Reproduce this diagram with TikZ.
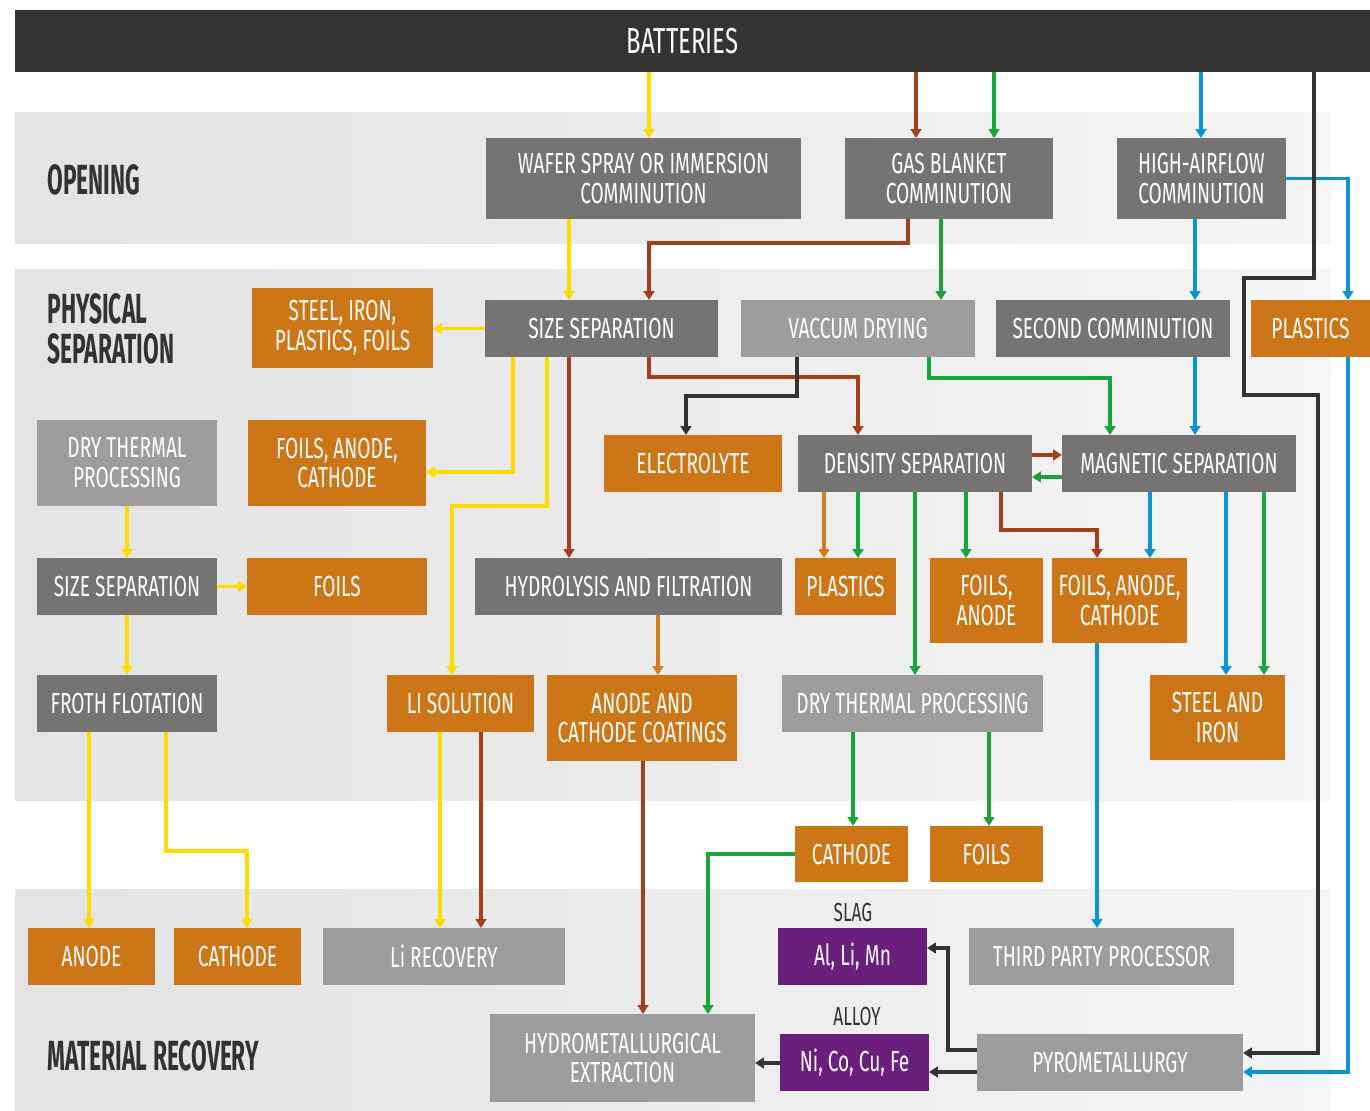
\documentclass[tikz,border=0pt]{standalone}
\usepackage{fontspec}
\setmainfont{Fira Sans}
\newfontfamily\boxfont[FakeStretch=0.66]{Fira Sans}
\newfontfamily\headfont[FakeStretch=0.54]{Fira Sans}
\usetikzlibrary{arrows.meta}

\definecolor{barblack}{HTML}{353331}
\definecolor{procdark}{HTML}{767472}
\definecolor{proclight}{HTML}{9E9C9C}
\definecolor{prodorange}{HTML}{CD7617}
\definecolor{metalpurple}{HTML}{6B1F7C}
\definecolor{bandgray}{HTML}{E3E3E3}
\definecolor{headgray}{HTML}{333333}
\definecolor{lnyellow}{HTML}{FFDC00}
\definecolor{lnbrown}{HTML}{A3401A}
\definecolor{lnorange}{HTML}{D07E20}
\definecolor{lngreen}{HTML}{1BA33C}
\definecolor{lnblue}{HTML}{0A93D5}
\definecolor{lnblack}{HTML}{333333}

\tikzset{
  wh/.style 2 args={minimum width=#1*0.02cm, minimum height=#2*0.02cm, anchor=north west},
  box/.style={text=white, align=center, inner sep=0pt, outer sep=0pt,
    font=\boxfont\fontsize{16.5}{17}\selectfont},
  dk/.style={box, fill=procdark},
  lt/.style={box, fill=proclight},
  prod/.style={box, fill=prodorange},
  metal/.style={box, fill=metalpurple},
  head/.style={anchor=west, align=left, text=headgray, inner sep=0pt,
    font=\headfont\bfseries\fontsize{24}{22.5}\selectfont},
  flow/.style={line width=2pt, -{Triangle[width=6pt,length=5pt]}},
  yel/.style={flow, draw=lnyellow},
  brn/.style={flow, draw=lnbrown},
  org/.style={flow, draw=lnorange},
  grn/.style={flow, draw=lngreen},
  blu/.style={flow, draw=lnblue},
  blk/.style={flow, draw=lnblack},
}

\begin{document}
\begin{tikzpicture}[x=0.02cm, y=-0.02cm]
\useasboundingbox (0,0) rectangle (1370,1110);

% bands
\shade[left color=bandgray, right color=white!96!black] (15,112) rectangle (1330,243);
\shade[left color=bandgray, right color=white!96!black] (15,269) rectangle (1330,800);
\shade[left color=bandgray, right color=white!96!black] (15,889) rectangle (1330,1110);

\node[head] (hopen) at (47,180) {OPENING};
\node[head] (hphys) at (47,329) {PHYSICAL\\SEPARATION};
\node[head] (hrec) at (47,1056) {MATERIAL RECOVERY};

\node[wh={1355}{62}, fill=barblack, text=white, inner sep=0pt, outer sep=0pt,
  font=\boxfont\fontsize{20.6}{21}\selectfont] (bat) at (15,10) {BATTERIES\kern0.4cm};

% opening
\node[dk, wh={315}{81}] (wafer) at (486,138) {WAFER SPRAY OR IMMERSION\\COMMINUTION};
\node[dk, wh={208}{81}] (gas) at (845,138) {GAS BLANKET\\COMMINUTION};
\node[dk, wh={169}{81}] (hiair) at (1117,138) {HIGH-AIRFLOW\\COMMINUTION};

% physical separation
\node[prod, wh={181}{80}] (sipf) at (252,288) {STEEL, IRON,\\PLASTICS, FOILS};
\node[dk, wh={233}{57}] (ssep) at (485,300) {SIZE SEPARATION};
\node[lt, wh={234}{57}] (vdry) at (741,300) {VACCUM DRYING};
\node[dk, wh={234}{57}] (comm2) at (996,300) {SECOND COMMINUTION};
\node[prod, wh={119}{57}] (plast) at (1251,300) {PLASTICS};

\node[lt, wh={180}{86}] (dtp) at (37,420) {DRY THERMAL\\PROCESSING};
\node[prod, wh={178}{86}] (fac) at (248,420) {FOILS, ANODE,\\CATHODE};
\node[prod, wh={178}{57}] (elyte) at (604,435) {ELECTROLYTE};
\node[dk, wh={234}{57}] (dens) at (798,435) {DENSITY SEPARATION};
\node[dk, wh={234}{57}] (magn) at (1062,435) {MAGNETIC SEPARATION};

\node[dk, wh={180}{57}] (ssep2) at (37,558) {SIZE SEPARATION};
\node[prod, wh={180}{57}] (foils) at (247,558) {FOILS};
\node[dk, wh={307}{57}] (hydro) at (475,558) {HYDROLYSIS AND FILTRATION};
\node[prod, wh={101}{57}] (plast2) at (795,558) {PLASTICS};
\node[prod, wh={113}{85}] (fa) at (930,558) {FOILS,\\ANODE};
\node[prod, wh={135}{85}] (fac2) at (1052,558) {FOILS, ANODE,\\CATHODE};

\node[dk, wh={180}{57}] (froth) at (37,675) {FROTH FLOTATION};
\node[prod, wh={147}{57}] (lisol) at (387,675) {LI SOLUTION};
\node[prod, wh={190}{86}] (coat) at (547,675) {ANODE AND\\CATHODE COATINGS};
\node[lt, wh={261}{57}] (dtp2) at (782,675) {DRY THERMAL PROCESSING};
\node[prod, wh={135}{85}] (steel) at (1150,675) {STEEL AND\\IRON};

\node[prod, wh={113}{56}] (cath) at (795,826) {CATHODE};
\node[prod, wh={113}{56}] (foils2) at (930,826) {FOILS};

% material recovery
\node[prod, wh={127}{57}] (anode) at (28,928) {ANODE};
\node[prod, wh={127}{57}] (cath2) at (174,928) {CATHODE};
\node[lt, wh={242}{57}] (lirec) at (323,928) {Li RECOVERY};
\node[metal, wh={149}{57}] (slag) at (778,928) {Al, Li, Mn};
\node[lt, wh={265}{57}] (third) at (969,928) {THIRD PARTY PROCESSOR};
\node[lt, wh={265}{88}] (hymet) at (490,1014) {HYDROMETALLURGICAL\\EXTRACTION};
\node[metal, wh={149}{57}] (alloy) at (780,1034) {Ni, Co, Cu, Fe};
\node[lt, wh={266}{57}] (pyro) at (977,1034) {PYROMETALLURGY};

\node[text=headgray, font=\boxfont\fontsize{14.9}{15}\selectfont, inner sep=0pt] (lslag) at (853,912) {SLAG};
\node[text=headgray, font=\boxfont\fontsize{14.9}{15}\selectfont, inner sep=0pt] (lalloy) at (857,1016) {ALLOY};

% yellow
\draw[yel] (bat.south -| 649,0) -- (wafer.north -| 649,0);
\draw[yel] (wafer.south -| 569,0) -- (ssep.north -| 569,0);
\draw[yel] (ssep.west) -- (sipf.east |- ssep.west);
\draw[yel] (ssep.south -| 513,0) |- (fac.east |- 0,472);
\draw[yel] (ssep.south -| 547,0) |- (452,506) -- (lisol.north -| 452,0);
\draw[yel] (dtp.south) -- (ssep2.north);
\draw[yel] (ssep2.east) -- (foils.west);
\draw[yel] (ssep2.south) -- (froth.north);
\draw[yel] (froth.south -| 89,0) -- (anode.north -| 89,0);
\draw[yel] (froth.south -| 166,0) |- (247,851) -- (cath2.north -| 247,0);
\draw[yel] (lisol.south -| 440,0) -- (lirec.north -| 440,0);

% brown
\draw[brn] (bat.south -| 916,0) -- (gas.north -| 916,0);
\draw[brn] (gas.south -| 908,0) |- (649,243) -- (ssep.north -| 649,0);
\draw[brn] (ssep.south -| 569,0) -- (hydro.north -| 569,0);
\draw[brn] (ssep.south -| 649,0) |- (858,377) -- (dens.north -| 858,0);
\draw[brn] (dens.east |- 0,455) -- (magn.west |- 0,455);
\draw[brn] (dens.south -| 1001,0) |- (1097,530) -- (fac2.north -| 1097,0);
\draw[brn] (lisol.south -| 481,0) -- (lirec.north -| 481,0);
\draw[brn] (coat.south -| 643,0) -- (hymet.north -| 643,0);

% orange
\draw[org] (hydro.south -| 658,0) -- (coat.north -| 658,0);
\draw[org] (dens.south -| 824,0) -- (plast2.north -| 824,0);

% green
\draw[grn] (bat.south -| 994,0) -- (gas.north -| 994,0);
\draw[grn] (gas.south -| 941,0) -- (vdry.north -| 941,0);
\draw[grn] (vdry.south -| 929,0) |- (1110,378) -- (magn.north -| 1110,0);
\draw[grn] (magn.west |- 0,477) -- (dens.east |- 0,477);
\draw[grn] (dens.south -| 858,0) -- (plast2.north -| 858,0);
\draw[grn] (dens.south -| 915,0) -- (dtp2.north -| 915,0);
\draw[grn] (dens.south -| 966,0) -- (fa.north -| 966,0);
\draw[grn] (magn.south -| 1264,0) -- (steel.north -| 1264,0);
\draw[grn] (dtp2.south -| 853,0) -- (cath.north -| 853,0);
\draw[grn] (dtp2.south -| 989,0) -- (foils2.north -| 989,0);
\draw[grn] (cath.west) -| (hymet.north -| 708,0);

% blue
\draw[blu] (bat.south -| 1201,0) -- (hiair.north -| 1201,0);
\draw[blu] (hiair.south -| 1195,0) -- (comm2.north -| 1195,0);
\draw[blu] (hiair.east) -| (plast.north -| 1348,0);
\draw[blu] (comm2.south -| 1195,0) -- (magn.north -| 1195,0);
\draw[blu] (magn.south -| 1150,0) -- (fac2.north -| 1150,0);
\draw[blu] (magn.south -| 1226,0) -- (steel.north -| 1226,0);
\draw[blu] (fac2.south -| 1097,0) -- (third.north -| 1097,0);
\draw[blu] (plast.south -| 1348,0) |- (pyro.east |- 0,1072);

% black
\draw[blk] (bat.south -| 1314,0) -- (1314,278) -- (1244,278) -- (1244,395) -- (1318,395) |- (pyro.east |- 0,1053);
\draw[blk] (vdry.south -| 797,0) |- (686,396) -- (elyte.north -| 686,0);
\draw[blk] (pyro.west |- 0,1050) -| (948,948) -- (slag.east |- 0,948);
\draw[blk] (pyro.west |- 0,1072) -- (alloy.east |- 0,1072);
\draw[blk] (alloy.west |- 0,1063) -- (hymet.east |- 0,1063);
\end{tikzpicture}
\end{document}
